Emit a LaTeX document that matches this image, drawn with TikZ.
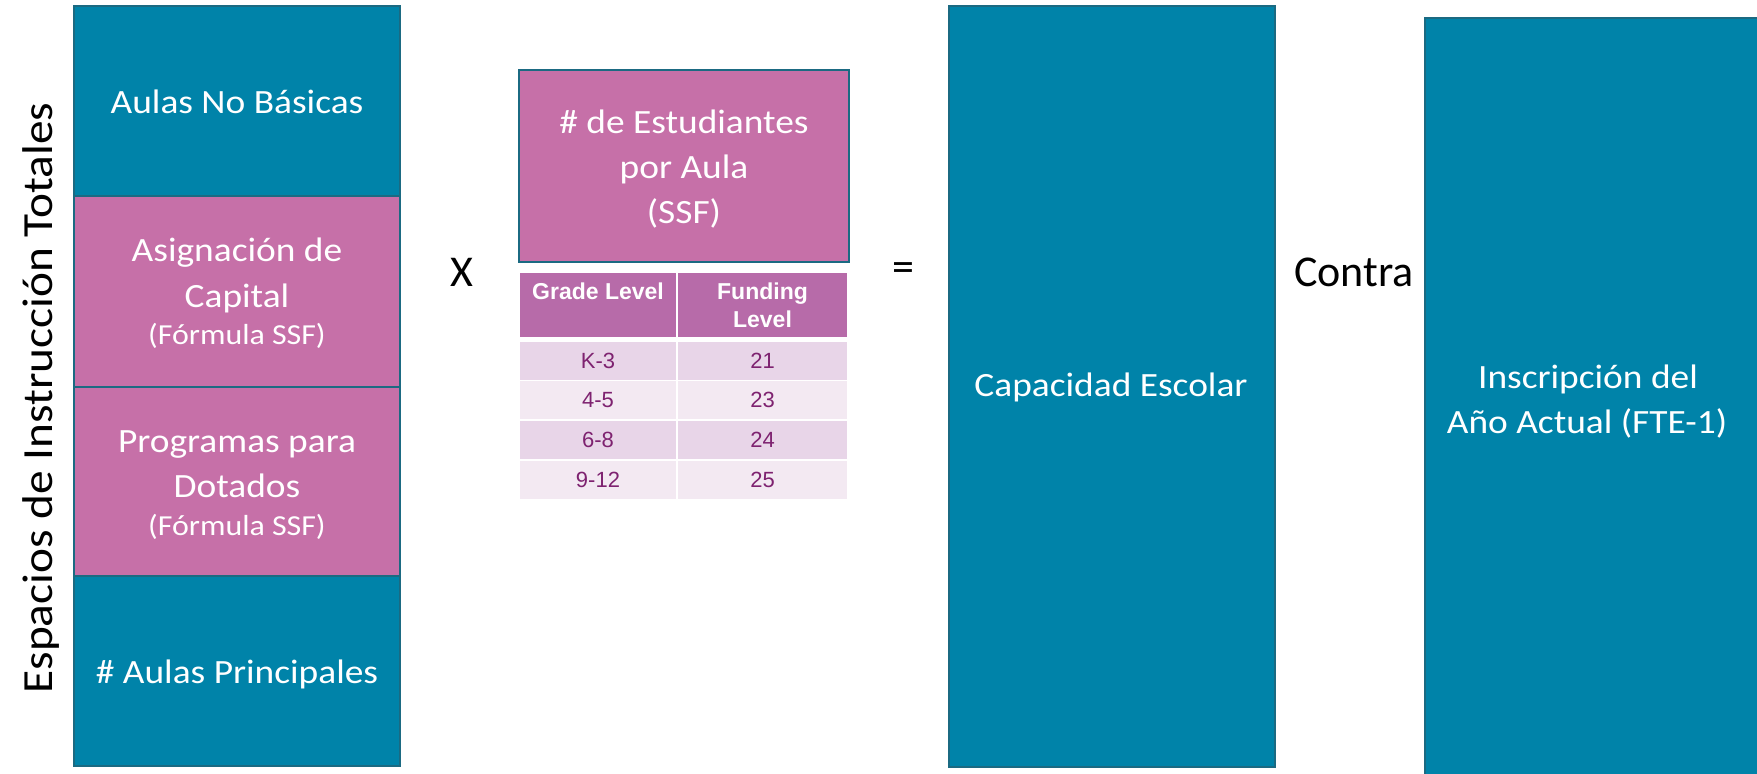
\documentclass[tikz,border=0pt]{standalone}
\usepackage{fontspec}
\setmainfont{Carlito}
\newfontfamily\widefont[FakeStretch=1.1]{Carlito}
\newfontfamily\vtextfont[FakeStretch=1.1]{Carlito}
\newfontfamily\arialfont{Liberation Sans}
\definecolor{tealfill}{HTML}{0083A9}
\definecolor{tealedge}{HTML}{1B6A82}
\definecolor{pinkfill}{HTML}{C670A8}
\definecolor{headfill}{HTML}{B76BA9}
\definecolor{rowa}{HTML}{E8D5E8}
\definecolor{rowb}{HTML}{F3E9F2}
\definecolor{rowtext}{HTML}{7E2270}
\tikzset{
  blk/.style={draw=tealedge, line width=2pt, inner sep=0pt, outer sep=0pt, anchor=north west},
  tealblk/.style={blk, fill=tealfill},
  pinkblk/.style={blk, fill=pinkfill},
  leftblk/.style={minimum width=326pt},
  boxtext/.style={anchor=base, inner sep=0pt, text=white, font=\widefont\fontsize{34}{40}\selectfont},
  subtext/.style={boxtext, font=\widefont\fontsize{29}{34}\selectfont},
  cell/.style={inner sep=0pt, outer sep=0pt, anchor=north west, align=center, minimum height=38pt},
  headcell/.style={cell, fill=headfill, text=white, minimum height=64pt, font=\arialfont\bfseries\fontsize{23}{28}\selectfont},
  rowcell/.style={cell, text=rowtext, font=\arialfont\fontsize{22}{26}\selectfont},
  colone/.style={minimum width=156pt},
  coltwo/.style={minimum width=169pt},
  symb/.style={font=\fontsize{44}{50}\selectfont, text=black, inner sep=0pt}
}
\begin{document}
\begin{tikzpicture}[x=1pt,y=-1pt]
\useasboundingbox (0,0) rectangle (1757,774);
\clip (0,0) rectangle (1757,774);

% vertical label
\node[rotate=90, anchor=base, inner sep=0pt, font=\vtextfont\fontsize{43}{50}\selectfont] (lbl) at (52,398) {Espacios de Instrucción Totales};

% left column
\node[tealblk, leftblk, minimum height=190pt] (nobas) at (74,6) {};
\node[pinkblk, leftblk, minimum height=191pt] (capital) at (74,196) {};
\node[pinkblk, leftblk, minimum height=189pt] (dotados) at (74,387) {};
\node[tealblk, leftblk, minimum height=190pt] (princ) at (74,576) {};

\node[boxtext] (nobas-t) at (237,113) {Aulas No Básicas};
\node[boxtext] (capital-t1) at (237,261) {Asignación de};
\node[boxtext] (capital-t2) at (237,307) {Capital};
\node[subtext] (capital-t3) at (237,344) {(Fórmula SSF)};
\node[boxtext] (dotados-t1) at (237,452) {Programas para};
\node[boxtext] (dotados-t2) at (237,497) {Dotados};
\node[subtext] (dotados-t3) at (237,535) {(Fórmula SSF)};
\node[boxtext] (princ-t) at (237,683) {\# Aulas Principales};

% operator X
\node[symb] (times) at (462,272) {X};

% students per classroom
\node[pinkblk, line width=2.5pt, minimum width=330pt, minimum height=192pt] (ssf) at (519,70) {};
\node[boxtext] (ssf-t1) at (684,133) {\# de Estudiantes};
\node[boxtext] (ssf-t2) at (684,178) {por Aula};
\node[boxtext] (ssf-t3) at (684,223) {(SSF)};

% table
\node[headcell, colone] (h1) at (520,273) {Grade Level\\\mbox{}};
\node[headcell, coltwo] (h2) at (678,273) {Funding\\Level};
\node[rowcell, colone, fill=rowa] (a1) at (520,342) {K-3};
\node[rowcell, coltwo, fill=rowa] (a2) at (678,342) {21};
\node[rowcell, colone, fill=rowb] (b1) at (520,381) {4-5};
\node[rowcell, coltwo, fill=rowb] (b2) at (678,381) {23};
\node[rowcell, colone, fill=rowa] (c1) at (520,421) {6-8};
\node[rowcell, coltwo, fill=rowa] (c2) at (678,421) {24};
\node[rowcell, colone, fill=rowb] (d1) at (520,461) {9-12};
\node[rowcell, coltwo, fill=rowb] (d2) at (678,461) {25};

% equals
\node[symb] (equals) at (903,272) {=};

% capacity
\node[tealblk, minimum width=326pt, minimum height=761pt] (capac) at (949,6) {};
\node[boxtext] (capac-t) at (1111,396) {Capacidad Escolar};

% contra
\node[symb] (contra) at (1354,272) {Contra};

% enrollment
\node[tealblk, minimum width=333pt, minimum height=770pt] (insc) at (1425,18) {};
\node[boxtext] (insc-t1) at (1588,388) {Inscripción del};
\node[boxtext] (insc-t2) at (1587,433) {Año Actual (FTE-1)};
\end{tikzpicture}
\end{document}
